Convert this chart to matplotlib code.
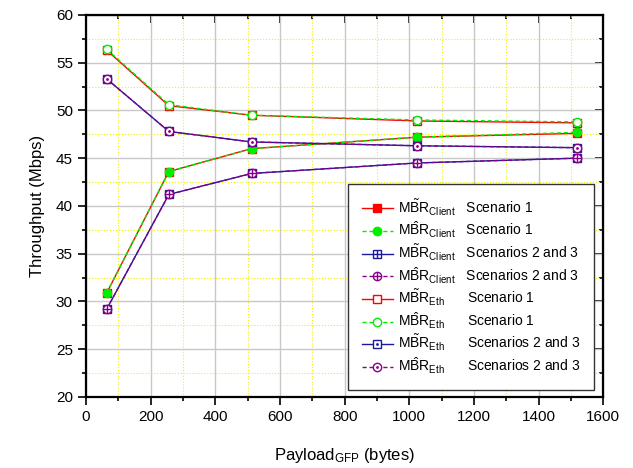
import matplotlib

matplotlib.use("Agg")

import matplotlib.pyplot as plt
from matplotlib.legend_handler import HandlerTuple
from matplotlib.ticker import MultipleLocator

plt.rcParams["font.family"] = ["Liberation Sans", "DejaVu Sans"]
plt.rcParams["mathtext.fontset"] = "custom"
plt.rcParams["mathtext.rm"] = "Liberation Sans"
plt.rcParams["mathtext.it"] = "Liberation Sans:italic"

payload = [64, 256, 512, 1024, 1518]

client_s1_tilde = [30.9, 43.6, 46.0, 47.2, 47.6]
client_s1_hat = [30.9, 43.6, 46.0, 47.2, 47.7]
client_s23_tilde = [29.2, 41.2, 43.4, 44.5, 45.0]
client_s23_hat = [29.2, 41.2, 43.4, 44.5, 45.0]
eth_s1_tilde = [56.3, 50.5, 49.5, 48.9, 48.7]
eth_s1_hat = [56.4, 50.6, 49.5, 49.0, 48.8]
eth_s23_tilde = [53.3, 47.8, 46.7, 46.3, 46.1]
eth_s23_hat = [53.3, 47.8, 46.7, 46.3, 46.1]

RED = "#ff0000"
GREEN = "#00ee00"
BLUE = "#1a1a9a"
PURPLE = "#880088"

CL = r"$\mathrm{M\tilde{B}R}_{\mathrm{Client}}$"
CH = r"$\mathrm{M\hat{B}R}_{\mathrm{Client}}$"
EL = r"$\mathrm{M\tilde{B}R}_{\mathrm{Eth}}$"
EH = r"$\mathrm{M\hat{B}R}_{\mathrm{Eth}}$"

fig = plt.figure(figsize=(6.33, 4.68), dpi=100)
ax = fig.add_axes([0.136, 0.152, 0.817, 0.816])

handles = []
labels = []


def add(y, color, ls, marker, filled, inner=None, inner_size=4, label=""):
    fc = color if filled else "white"
    (ln,) = ax.plot(payload, y, color=color, ls=ls, lw=1.0, marker=marker,
                    ms=6, mfc=fc, mec=color, mew=1.0, dashes=(3, 2) if ls == "--" else (None, None))
    parts = [ln]
    if inner is not None:
        (pt,) = ax.plot(payload, y, ls="none", marker=inner, ms=inner_size,
                        color=color, mew=1.0)
        parts.append(pt)
    handles.append(tuple(parts) if len(parts) > 1 else ln)
    labels.append(label)


add(client_s1_tilde, RED, "-", "s", True, label=CL + "   Scenario 1")
add(client_s1_hat, GREEN, "--", "o", True, label=CH + "   Scenario 1")
add(client_s23_tilde, BLUE, "-", "s", False, inner="+", inner_size=6, label=CL + "   Scenarios 2 and 3")
add(client_s23_hat, PURPLE, "--", "o", False, inner="+", inner_size=6, label=CH + "   Scenarios 2 and 3")
add(eth_s1_tilde, RED, "-", "s", False, label=EL + "      Scenario 1")
add(eth_s1_hat, GREEN, "--", "o", False, label=EH + "      Scenario 1")
add(eth_s23_tilde, BLUE, "-", "s", False, inner=".", inner_size=2, label=EL + "      Scenarios 2 and 3")
add(eth_s23_hat, PURPLE, "--", "o", False, inner=".", inner_size=2, label=EH + "      Scenarios 2 and 3")

ax.set_xlim(0, 1600)
ax.set_ylim(20, 60)
ax.xaxis.set_major_locator(MultipleLocator(200))
ax.xaxis.set_minor_locator(MultipleLocator(100))
ax.yaxis.set_major_locator(MultipleLocator(5))
ax.yaxis.set_minor_locator(MultipleLocator(2.5))

ax.grid(which="major", color="#c8c8c8", lw=1.0)
ax.grid(which="minor", color="#f0f000", lw=0.8, ls=":")
ax.set_axisbelow(True)

for s in ax.spines.values():
    s.set_linewidth(1.6)

ax.tick_params(which="both", direction="out", top=False, right=False, labelsize=11, width=1.2)
ax.tick_params(which="major", length=6)
ax.tick_params(which="minor", length=3)
ax2 = ax.secondary_xaxis("top")
ax2.set_xticks(range(0, 1601, 200))
ax2.xaxis.set_minor_locator(MultipleLocator(100))
ax2.tick_params(which="both", direction="in", labeltop=False, width=1.2)
ax2.tick_params(which="major", length=6)
ax2.tick_params(which="minor", length=3)
ax3 = ax.secondary_yaxis("right")
ax3.set_yticks(range(20, 61, 5))
ax3.yaxis.set_minor_locator(MultipleLocator(2.5))
ax3.tick_params(which="both", direction="in", labelright=False, width=1.2)
ax3.tick_params(which="major", length=6)
ax3.tick_params(which="minor", length=3)

ax.set_xlabel(r"Payload$_{\mathrm{GFP}}$ (bytes)", fontsize=12, labelpad=16)
ax.set_ylabel("Throughput (Mbps)", fontsize=12, labelpad=8)

leg = ax.legend(handles, labels, handler_map={tuple: HandlerTuple(ndivide=1, pad=0)},
                loc="lower right", bbox_to_anchor=(0.983, 0.018), fontsize=10,
                fancybox=False, edgecolor="#333333", framealpha=1.0,
                handlelength=2.2, labelspacing=0.18, borderpad=1.0,
                handletextpad=0.4, borderaxespad=0)
leg.get_frame().set_linewidth(1.0)

fig.savefig("out.png", dpi=100)
